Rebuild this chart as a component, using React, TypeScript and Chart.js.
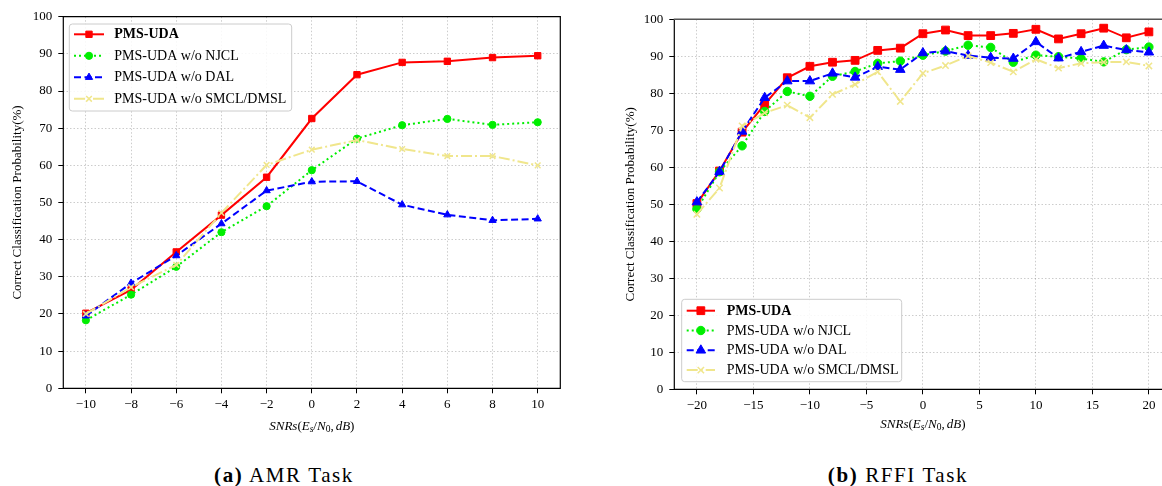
import React, { useEffect, useRef } from "react";
import { Chart, registerables } from "chart.js";

Chart.register(...registerables);

// ---------------- DATA ----------------
const seriesLabels = [
  "PMS-UDA",
  "PMS-UDA w/o NJCL",
  "PMS-UDA w/o DAL",
  "PMS-UDA w/o SMCL/DMSL",
];

// (a) AMR Task
const amrSnr = [-10, -8, -6, -4, -2, 0, 2, 4, 6, 8, 10];
const amrFull = [20.2, 26.5, 36.7, 46.6, 56.8, 72.6, 84.4, 87.7, 88.0, 89.0, 89.5];
const amrNoNJCL = [18.3, 25.2, 32.7, 42.0, 49.0, 58.7, 67.2, 70.8, 72.5, 70.9, 71.6];
const amrNoDAL = [19.5, 28.3, 35.7, 44.3, 53.2, 55.6, 55.7, 49.4, 46.7, 45.2, 45.6];
const amrNoSMCL = [20.0, 27.2, 33.2, 47.2, 60.1, 64.2, 66.8, 64.4, 62.5, 62.5, 60.0];
const amrXTicks = [-10, -8, -6, -4, -2, 0, 2, 4, 6, 8, 10];

// (b) RFFI Task
const rffiSnr = [-20, -18, -16, -14, -12, -10, -8, -6, -4, -2, 0, 2, 4, 6, 8, 10, 12, 14, 16, 18, 20];
const rffiFull = [50.2, 59.0, 69.5, 77.0, 84.2, 87.3, 88.4, 88.9, 91.6, 92.2, 96.1, 97.1, 95.6, 95.6, 96.2, 97.3, 94.7, 96.1, 97.6, 95.0, 96.6];
const rffiNoNJCL = [48.7, 58.8, 65.8, 75.1, 80.5, 79.2, 84.6, 85.9, 88.1, 88.7, 90.3, 91.4, 93.0, 92.4, 88.4, 90.3, 89.9, 89.4, 88.5, 91.8, 92.5];
const rffiNoDAL = [50.6, 58.8, 69.7, 78.8, 83.3, 83.3, 85.4, 84.3, 87.2, 86.4, 90.9, 91.4, 90.2, 89.6, 89.4, 93.9, 89.5, 91.2, 92.9, 91.7, 91.1];
const rffiNoSMCL = [47.3, 54.4, 71.2, 74.7, 76.8, 73.4, 79.7, 82.4, 85.8, 77.8, 85.4, 87.5, 90.1, 88.3, 85.8, 89.2, 86.8, 88.1, 88.4, 88.5, 87.4];
const rffiXTicks = [-20, -15, -10, -5, 0, 5, 10, 15, 20];

const yTicks = [0, 10, 20, 30, 40, 50, 60, 70, 80, 90, 100];

const yTitle = "Correct Classification Probability(%)";
const captionA = ["(a)", " AMR Task"];
const captionB = ["(b)", " RFFI Task"];

// ---------------- STYLE ----------------
const SERIF = "'Liberation Serif', 'Times New Roman', serif";
const colors = ["#ff0000", "#00ee00", "#0000ff", "#f0e68c"];
const dashes: number[][] = [[], [2, 3], [7, 3.5], [11, 3, 2, 3]];
const pointStyles = ["rect", "circle", "triangle", "crossRot"];

type Geo = {
  canvasLeft: number;
  canvasWidth: number;
  canvasHeight: number;
  padTop: number;
  padRight: number;
  yAxisWidth: number;
  xAxisHeight: number;
  xMin: number;
  xMax: number;
  topColor: string;
  topWidth: number;
  yTitleX: number;
  xTitleY: number;
  radii: number[];
  legend: {
    x: number;
    y: number;
    w: number;
    h: number;
    row0: number;
    rowGap: number;
    lx0: number;
    lx1: number;
    tx: number;
  };
};

const geoA: Geo = {
  canvasLeft: 0,
  canvasWidth: 580,
  canvasHeight: 437,
  padTop: 16.7,
  padRight: 19.7,
  yAxisWidth: 63.3,
  xAxisHeight: 48.7,
  xMin: -11,
  xMax: 11,
  topColor: "#000",
  topWidth: 1.2,
  yTitleX: 18,
  xTitleY: 425,
  radii: [4.5, 3.6, 4.2, 4],
  legend: { x: 69.3, y: 24, w: 222.4, h: 87, row0: 34.3, rowGap: 21.5, lx0: 74, lx1: 104, tx: 114.3 },
};

const geoB: Geo = {
  canvasLeft: 580,
  canvasWidth: 600,
  canvasHeight: 437,
  padTop: 19.3,
  padRight: 8.5,
  yAxisWidth: 94.3,
  xAxisHeight: 47.7,
  xMin: -22,
  xMax: 22,
  topColor: "#555",
  topWidth: 1.6,
  yTitleX: 51,
  xTitleY: 423,
  radii: [5.5, 4.2, 5.5, 4.5],
  legend: { x: 101.7, y: 299.3, w: 220, h: 82.4, row0: 310.7, rowGap: 19.8, lx0: 106.7, lx1: 135, tx: 146.7 },
};

function drawMarker(ctx: CanvasRenderingContext2D, style: string, x: number, y: number, r: number, color: string) {
  ctx.save();
  ctx.setLineDash([]);
  ctx.fillStyle = color;
  ctx.strokeStyle = color;
  ctx.lineWidth = style === "crossRot" ? 1.5 : 1;
  ctx.beginPath();
  if (style === "rect") {
    const s = Math.SQRT1_2 * r;
    ctx.rect(x - s, y - s, 2 * s, 2 * s);
    ctx.fill();
    ctx.stroke();
  } else if (style === "circle") {
    ctx.arc(x, y, r, 0, Math.PI * 2);
    ctx.fill();
    ctx.stroke();
  } else if (style === "triangle") {
    let a = 0;
    ctx.moveTo(x + Math.sin(a) * r, y - Math.cos(a) * r);
    a += (2 * Math.PI) / 3;
    ctx.lineTo(x + Math.sin(a) * r, y - Math.cos(a) * r);
    a += (2 * Math.PI) / 3;
    ctx.lineTo(x + Math.sin(a) * r, y - Math.cos(a) * r);
    ctx.closePath();
    ctx.fill();
    ctx.stroke();
  } else {
    const d = r * Math.SQRT1_2;
    ctx.moveTo(x - d, y - d);
    ctx.lineTo(x + d, y + d);
    ctx.moveTo(x + d, y - d);
    ctx.lineTo(x - d, y + d);
    ctx.stroke();
  }
  ctx.restore();
}

function makeDecor(g: Geo) {
  return {
    id: "decor",
    afterDraw(chart: any) {
      const ctx: CanvasRenderingContext2D = chart.ctx;
      const { left, right, top, bottom } = chart.chartArea;
      ctx.save();
      // frame
      ctx.setLineDash([]);
      ctx.strokeStyle = "#000";
      ctx.lineWidth = 1.2;
      ctx.beginPath();
      ctx.moveTo(left, top);
      ctx.lineTo(left, bottom);
      ctx.lineTo(right, bottom);
      ctx.lineTo(right, top);
      ctx.stroke();
      ctx.strokeStyle = g.topColor;
      ctx.lineWidth = g.topWidth;
      ctx.beginPath();
      ctx.moveTo(left - 0.6, top);
      ctx.lineTo(right + 0.6, top);
      ctx.stroke();

      // y title
      ctx.fillStyle = "#000";
      ctx.save();
      ctx.translate(g.yTitleX, (top + bottom) / 2);
      ctx.rotate(-Math.PI / 2);
      ctx.font = `13px ${SERIF}`;
      ctx.textAlign = "center";
      ctx.textBaseline = "middle";
      ctx.fillText(yTitle, 0, 0);
      ctx.restore();

      // x title: SNRs(E_s/N_0,dB)
      const parts: { t: string; it: boolean; sub: boolean }[] = [
        { t: "SNRs", it: true, sub: false },
        { t: "(", it: false, sub: false },
        { t: "E", it: true, sub: false },
        { t: "s", it: true, sub: true },
        { t: "/", it: false, sub: false },
        { t: "N", it: true, sub: false },
        { t: "0", it: false, sub: true },
        { t: ",", it: false, sub: false },
        { t: "dB", it: true, sub: false },
        { t: ")", it: false, sub: false },
      ];
      const fontFor = (p: { it: boolean; sub: boolean }) =>
        `${p.it ? "italic " : ""}${p.sub ? 9.5 : 13}px ${SERIF}`;
      let total = 0;
      for (const p of parts) {
        ctx.font = fontFor(p);
        total += ctx.measureText(p.t).width + (p.t === "," ? 2 : 0);
      }
      let cx = (left + right) / 2 - total / 2;
      const base = g.xTitleY + 4.5;
      ctx.textAlign = "left";
      ctx.textBaseline = "alphabetic";
      for (const p of parts) {
        ctx.font = fontFor(p);
        ctx.fillText(p.t, cx, p.sub ? base + 2.5 : base);
        cx += ctx.measureText(p.t).width + (p.t === "," ? 2 : 0);
      }

      // legend
      const L = g.legend;
      ctx.save();
      ctx.beginPath();
      const rr = 3;
      ctx.moveTo(L.x + rr, L.y);
      ctx.arcTo(L.x + L.w, L.y, L.x + L.w, L.y + L.h, rr);
      ctx.arcTo(L.x + L.w, L.y + L.h, L.x, L.y + L.h, rr);
      ctx.arcTo(L.x, L.y + L.h, L.x, L.y, rr);
      ctx.arcTo(L.x, L.y, L.x + L.w, L.y, rr);
      ctx.closePath();
      ctx.fillStyle = "rgba(255,255,255,0.85)";
      ctx.fill();
      ctx.strokeStyle = "#cccccc";
      ctx.lineWidth = 1;
      ctx.stroke();
      ctx.restore();

      for (let i = 0; i < seriesLabels.length; i++) {
        const y = L.row0 + i * L.rowGap;
        ctx.save();
        ctx.strokeStyle = colors[i];
        ctx.lineWidth = 2;
        ctx.setLineDash(dashes[i]);
        ctx.beginPath();
        ctx.moveTo(L.lx0, y);
        ctx.lineTo(L.lx1, y);
        ctx.stroke();
        ctx.restore();
        drawMarker(ctx, pointStyles[i], (L.lx0 + L.lx1) / 2, y, g.radii[i], colors[i]);
        ctx.fillStyle = "#000";
        ctx.font = `${i === 0 ? "bold " : ""}14px ${SERIF}`;
        ctx.textAlign = "left";
        ctx.textBaseline = "middle";
        ctx.fillText(seriesLabels[i], L.tx, y + 0.5);
      }
      ctx.restore();
    },
  };
}

function buildConfig(g: Geo, xs: number[], series: number[][], xTicks: number[]): any {
  const datasets = series.map((ys, i) => ({
    label: seriesLabels[i],
    data: xs.map((x, k) => ({ x, y: ys[k] })),
    borderColor: colors[i],
    backgroundColor: colors[i],
    borderWidth: 2,
    borderDash: dashes[i],
    pointStyle: pointStyles[i],
    pointRadius: g.radii[i],
    pointBorderWidth: pointStyles[i] === "crossRot" ? 1.5 : 1,
    pointBackgroundColor: colors[i],
    pointBorderColor: colors[i],
    tension: 0,
    order: series.length - 1 - i,
  }));
  const tickFont = { family: SERIF, size: 13 };
  const fmt = (v: number) => String(v).replace("-", "\u2212");
  return {
    type: "line",
    data: { datasets },
    plugins: [makeDecor(g)],
    options: {
      responsive: false,
      animation: false,
      events: [],
      layout: { padding: { left: 0, top: g.padTop, right: g.padRight, bottom: 0 } },
      plugins: { legend: { display: false }, tooltip: { enabled: false } },
      scales: {
        x: {
          type: "linear",
          min: g.xMin,
          max: g.xMax,
          afterBuildTicks: (s: any) => {
            s.ticks = xTicks.map((v) => ({ value: v }));
          },
          afterFit: (s: any) => {
            s.height = g.xAxisHeight;
          },
          ticks: {
            font: tickFont,
            color: "#000",
            padding: 3,
            maxRotation: 0,
            autoSkip: false,
            callback: (v: number) => fmt(v),
          },
          grid: {
            color: "rgba(0,0,0,0.2)",
            lineWidth: 1,
            drawTicks: true,
            tickLength: 5,
            tickColor: "#000",
            tickWidth: 1,
            tickBorderDash: [],
          },
          border: { display: false, dash: [1.5, 2] },
        },
        y: {
          type: "linear",
          min: 0,
          max: 100,
          afterBuildTicks: (s: any) => {
            s.ticks = yTicks.map((v) => ({ value: v }));
          },
          afterFit: (s: any) => {
            s.width = g.yAxisWidth;
          },
          ticks: {
            font: tickFont,
            color: "#000",
            padding: 6,
            autoSkip: false,
            callback: (v: number) => fmt(v),
          },
          grid: {
            color: "rgba(0,0,0,0.2)",
            lineWidth: 1,
            drawTicks: true,
            tickLength: 5,
            tickColor: "#000",
            tickWidth: 1,
            tickBorderDash: [],
          },
          border: { display: false, dash: [1.5, 2] },
        },
      },
    },
  };
}

function LineChart(props: { g: Geo; xs: number[]; series: number[][]; xTicks: number[] }) {
  const ref = useRef<HTMLCanvasElement>(null);
  useEffect(() => {
    if (!ref.current) return;
    const chart = new Chart(ref.current, buildConfig(props.g, props.xs, props.series, props.xTicks));
    return () => chart.destroy();
  }, []);
  const g = props.g;
  return (
    <canvas
      ref={ref}
      width={g.canvasWidth}
      height={g.canvasHeight}
      style={{
        position: "absolute",
        left: g.canvasLeft,
        top: 0,
        width: g.canvasWidth,
        height: g.canvasHeight,
      }}
    />
  );
}

function Caption(props: { center: number; parts: string[] }) {
  return (
    <div
      style={{
        position: "absolute",
        left: props.center - 150,
        width: 300,
        top: 462,
        height: 26,
        lineHeight: "26px",
        textAlign: "center",
        fontFamily: SERIF,
        fontSize: 21,
        letterSpacing: 1.6,
        color: "#000",
        whiteSpace: "pre",
      }}
    >
      <b>{props.parts[0]}</b>
      <span>{props.parts[1]}</span>
    </div>
  );
}

export default function App() {
  return (
    <div
      style={{
        position: "fixed",
        left: 0,
        top: 0,
        width: 1162,
        height: 486,
        overflow: "hidden",
        background: "#fff",
      }}
    >
      <LineChart g={geoA} xs={amrSnr} series={[amrFull, amrNoNJCL, amrNoDAL, amrNoSMCL]} xTicks={amrXTicks} />
      <LineChart g={geoB} xs={rffiSnr} series={[rffiFull, rffiNoNJCL, rffiNoDAL, rffiNoSMCL]} xTicks={rffiXTicks} />
      <Caption center={284} parts={captionA} />
      <Caption center={898} parts={captionB} />
    </div>
  );
}
